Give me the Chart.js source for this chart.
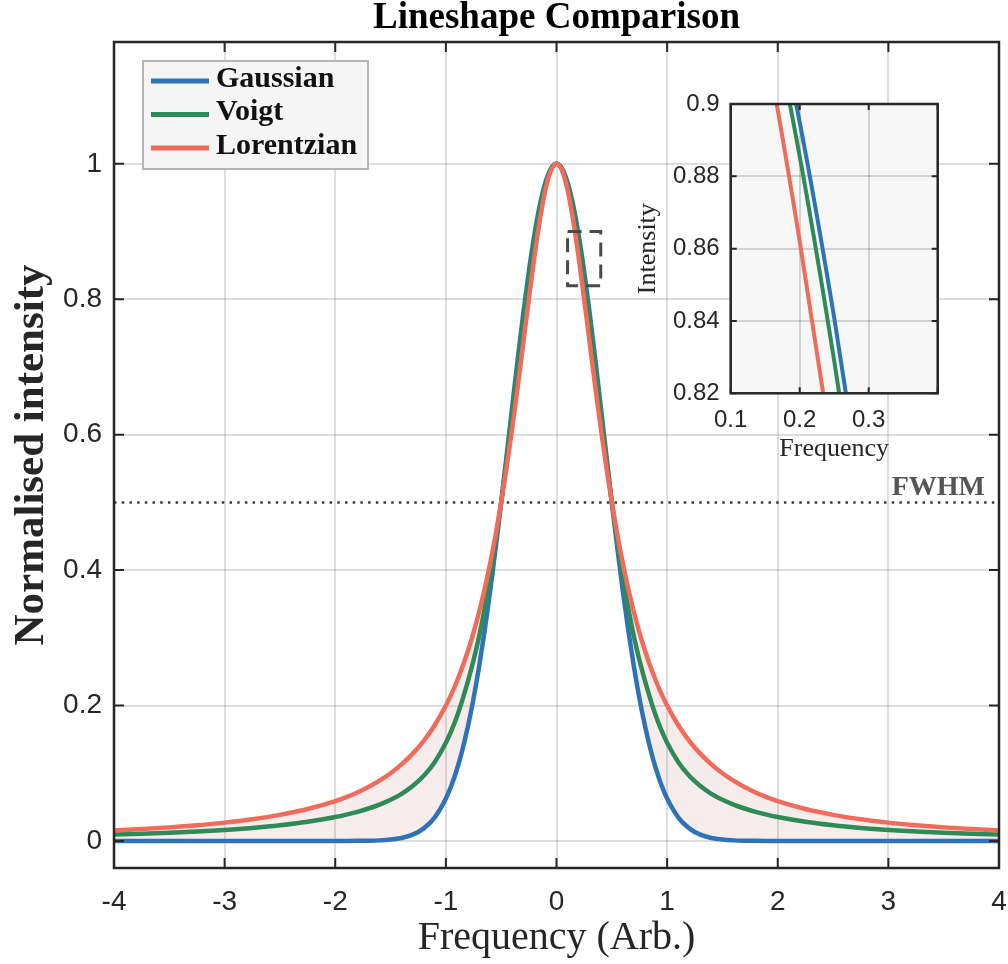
<!DOCTYPE html>
<html>
<head>
<meta charset="utf-8">
<title>Lineshape Comparison</title>
<script src="https://cdn.jsdelivr.net/npm/chart.js@4.4.1/dist/chart.umd.min.js"></script>
<style>
  html, body { margin: 0; padding: 0; background: #fff; }
  #wrap { position: relative; width: 1008px; height: 964px; }
  #main { position: absolute; left: 0; top: 0; }
  #inset { position: absolute; left: 620px; top: 80px; }
</style>
</head>
<body>
<div id="wrap">
  <canvas id="main" width="1008" height="964"></canvas>
  <canvas id="inset" width="340" height="390"></canvas>
</div>
<script>
// frequency samples (arb.) and the three normalised profiles
var freq = [-4,-3.75,-3.5,-3.25,-3,-2.75,-2.5,-2.25,-2,-1.9,-1.8,-1.7,-1.6,-1.5,-1.4,-1.3,-1.2,-1.1,-1,
  -0.95,-0.9,-0.85,-0.8,-0.75,-0.7,-0.65,-0.6,-0.55,-0.5,-0.45,-0.4,-0.35,-0.3,-0.25,-0.2,-0.15,-0.1,-0.05,
  0,
  0.05,0.1,0.15,0.2,0.25,0.3,0.35,0.4,0.45,0.5,0.55,0.6,0.65,0.7,0.75,0.8,0.85,0.9,0.95,
  1,1.1,1.2,1.3,1.4,1.5,1.6,1.7,1.8,1.9,2,2.25,2.5,2.75,3,3.25,3.5,3.75,4];

var gaussian = [0,0,0,0,0,0,0,0,0,0,0.0001,0.0003,0.0008,0.0020,0.0044,0.0092,0.0185,0.0349,0.0625,
  0.0819,0.1058,0.1349,0.1696,0.2102,0.2570,0.3099,0.3686,0.4323,0.5000,0.5704,0.6417,0.7120,0.7792,0.8409,0.8950,0.9395,0.9727,0.9931,
  1,
  0.9931,0.9727,0.9395,0.8950,0.8409,0.7792,0.7120,0.6417,0.5704,0.5000,0.4323,0.3686,0.3099,0.2570,0.2102,0.1696,0.1349,0.1058,0.0819,
  0.0625,0.0349,0.0185,0.0092,0.0044,0.0020,0.0008,0.0003,0.0001,0,0,0,0,0,0,0,0,0,0];

var voigt = [0.0095,0.0106,0.0120,0.0139,0.0162,0.0192,0.0231,0.0283,0.0353,0.0389,0.0430,0.0479,0.0537,0.0608,0.0696,0.0810,0.0961,0.1167,0.1450,
  0.1629,0.1838,0.2088,0.2364,0.2668,0.3015,0.3427,0.3892,0.4420,0.5000,0.5645,0.6320,0.7000,0.7665,0.8290,0.8855,0.9330,0.9695,0.9924,
  1,
  0.9924,0.9695,0.9330,0.8855,0.8290,0.7665,0.7000,0.6320,0.5645,0.5000,0.4420,0.3892,0.3427,0.3015,0.2668,0.2364,0.2088,0.1838,0.1629,
  0.1450,0.1167,0.0961,0.0810,0.0696,0.0608,0.0537,0.0479,0.0430,0.0389,0.0353,0.0283,0.0231,0.0192,0.0162,0.0139,0.0120,0.0106,0.0095];

var lorentzian = [0.0154,0.0175,0.0200,0.0231,0.0270,0.0320,0.0385,0.0471,0.0588,0.0648,0.0716,0.0796,0.0890,0.1000,0.1131,0.1289,0.1479,0.1712,0.2000,
  0.2169,0.2358,0.2571,0.2809,0.3077,0.3378,0.3717,0.4098,0.4525,0.5000,0.5525,0.6098,0.6711,0.7353,0.8000,0.8621,0.9174,0.9615,0.9901,
  1,
  0.9901,0.9615,0.9174,0.8621,0.8000,0.7353,0.6711,0.6098,0.5525,0.5000,0.4525,0.4098,0.3717,0.3378,0.3077,0.2809,0.2571,0.2358,0.2169,
  0.2000,0.1712,0.1479,0.1289,0.1131,0.1000,0.0890,0.0796,0.0716,0.0648,0.0588,0.0471,0.0385,0.0320,0.0270,0.0231,0.0200,0.0175,0.0154];

var seriesNames = ["Gaussian", "Voigt", "Lorentzian"];

var xTicks = [-4,-3,-2,-1,0,1,2,3,4];
var xTickLabels = ["-4","-3","-2","-1","0","1","2","3","4"];
var yTicks = [0,0.2,0.4,0.6,0.8,1];
var yTickLabels = ["0","0.2","0.4","0.6","0.8","1"];

var fwhmLevel = 0.5;
var zoomBox = [0.1, 0.4, 0.82, 0.9];   // x0, x1, y0, y1 of the inset window

var insetXTicks = [0.1,0.2,0.3,0.4];
var insetXTickLabels = ["0.1","0.2","0.3",""];
var insetYTicks = [0.82,0.84,0.86,0.88,0.9];
var insetYTickLabels = ["0.82","0.84","0.86","0.88","0.9"];

var colBlue = "#2E72B8", colGreen = "#2E8B57", colRed = "#EF6C5C";
var serif = "'Liberation Serif', 'Times New Roman', serif";
var sans = "'Liberation Sans', Arial, Helvetica, sans-serif";
var axisCol = "#262626";

function pts(ys) {
    return freq.map(function (f, i) { return {x: f, y: ys[i]}; });
}

function makeSets(width) {
    return [{
        label: seriesNames[0], data: pts(gaussian), borderColor: colBlue, borderWidth: width,
        pointRadius: 0, fill: false, cubicInterpolationMode: 'monotone', order: 3
    }, {
        label: seriesNames[1], data: pts(voigt), borderColor: colGreen, borderWidth: width,
        pointRadius: 0, fill: false, cubicInterpolationMode: 'monotone', order: 2
    }, {
        label: seriesNames[2], data: pts(lorentzian), borderColor: colRed, borderWidth: width,
        pointRadius: 0, cubicInterpolationMode: 'monotone', order: 1,
        fill: '-2', backgroundColor: 'rgba(190,100,100,0.12)'
    }];
}

function tickMarks(ctx, chart, xs, ys, len) {
    var a = chart.chartArea;
    ctx.beginPath();
    xs.forEach(function (v) {
        var p = chart.scales.x.getPixelForValue(v);
        ctx.moveTo(p, a.bottom); ctx.lineTo(p, a.bottom - len);
        ctx.moveTo(p, a.top); ctx.lineTo(p, a.top + len);
    });
    ys.forEach(function (v) {
        var p = chart.scales.y.getPixelForValue(v);
        ctx.moveTo(a.left, p); ctx.lineTo(a.left + len, p);
        ctx.moveTo(a.right, p); ctx.lineTo(a.right - len, p);
    });
    ctx.stroke();
}

var mainBits = {
    id: 'mainBits',
    beforeDatasetsDraw: function (chart) {
        var ctx = chart.ctx, a = chart.chartArea;
        var y = chart.scales.y.getPixelForValue(fwhmLevel);
        ctx.save();
        ctx.strokeStyle = '#3a3a3a';
        ctx.lineWidth = 2.5;
        ctx.setLineDash([2.5, 5.2]);
        ctx.beginPath(); ctx.moveTo(a.left, y); ctx.lineTo(a.right, y); ctx.stroke();
        ctx.restore();
    },
    afterDatasetsDraw: function (chart) {
        var ctx = chart.ctx, a = chart.chartArea, sx = chart.scales.x, sy = chart.scales.y;
        ctx.save();
        // dashed zoom window
        var bx0 = sx.getPixelForValue(zoomBox[0]), bx1 = sx.getPixelForValue(zoomBox[1]);
        var by0 = sy.getPixelForValue(zoomBox[3]), by1 = sy.getPixelForValue(zoomBox[2]);
        ctx.strokeStyle = '#4a4a4a';
        ctx.lineWidth = 3;
        ctx.setLineDash([14, 8]);
        ctx.strokeRect(bx0, by0, bx1 - bx0, by1 - by0);
        ctx.setLineDash([]);

        // FWHM label
        ctx.fillStyle = '#555';
        ctx.font = 'bold 28px ' + serif;
        ctx.textAlign = 'right';
        ctx.textBaseline = 'alphabetic';
        ctx.fillText('FWHM', a.right - 14, sy.getPixelForValue(fwhmLevel) - 7);

        // legend box
        var lx = a.left + 29, ly = a.top + 19;
        ctx.fillStyle = '#f5f5f5';
        ctx.fillRect(lx, ly, 225, 108);
        ctx.strokeStyle = '#b4b4b4';
        ctx.lineWidth = 2;
        ctx.strokeRect(lx, ly, 225, 108);
        var cols = [colBlue, colGreen, colRed];
        ctx.font = 'bold 30px ' + serif;
        ctx.textAlign = 'left';
        ctx.textBaseline = 'middle';
        for (var i = 0; i < 3; i++) {
            var yy = ly + 20 + i * 33.5;
            ctx.strokeStyle = cols[i];
            ctx.lineWidth = 5;
            ctx.beginPath(); ctx.moveTo(lx + 8, yy); ctx.lineTo(lx + 66, yy); ctx.stroke();
            ctx.fillStyle = '#111';
            ctx.fillText(seriesNames[i], lx + 73, yy - 2);
        }

        // inward ticks and box
        ctx.strokeStyle = axisCol;
        ctx.lineWidth = 2;
        tickMarks(ctx, chart, xTicks, yTicks, 10);
        ctx.lineWidth = 2.5;
        ctx.strokeRect(a.left, a.top, a.right - a.left, a.bottom - a.top);
        ctx.restore();
    }
};

var chart = new Chart(document.getElementById("main"), {
    type: 'line',
    data: { datasets: makeSets(4.5) },
    options: {
        responsive: false,
        animation: false,
        events: [],
        layout: { padding: { left: 0, right: 9, top: 0, bottom: 0 } },
        scales: {
            x: {
                type: 'linear', min: -4, max: 4,
                afterBuildTicks: function (s) { s.ticks = xTicks.map(function (v) { return {value: v}; }); },
                afterFit: function (s) { s.height = 96; s.paddingLeft = 0; s.paddingRight = 0; },
                ticks: {
                    autoSkip: false, maxRotation: 0, padding: 20, color: axisCol,
                    font: { family: sans, size: 28, lineHeight: 1 },
                    callback: function (v, i) { return xTickLabels[i]; }
                },
                grid: { color: 'rgba(0,0,0,0.13)', lineWidth: 2, drawTicks: false },
                border: { display: false },
                title: {
                    display: true, text: 'Frequency (Arb.)', color: axisCol,
                    font: { family: serif, size: 40, lineHeight: 1 },
                    padding: { top: 0, bottom: 6 }
                }
            },
            y: {
                type: 'linear', min: -0.04, max: 1.18,
                afterBuildTicks: function (s) { s.ticks = yTicks.map(function (v) { return {value: v}; }); },
                afterFit: function (s) { s.width = 114; },
                ticks: {
                    padding: 12, color: axisCol,
                    font: { family: sans, size: 28, lineHeight: 1 },
                    callback: function (v, i) { return yTickLabels[i]; }
                },
                grid: { color: 'rgba(0,0,0,0.13)', lineWidth: 2, drawTicks: false },
                border: { display: false },
                title: {
                    display: true, text: 'Normalised intensity', color: axisCol,
                    font: { family: serif, size: 43, weight: 'bold', lineHeight: 1 },
                    padding: { top: 10, bottom: 0 }
                }
            }
        },
        plugins: {
            legend: { display: false },
            tooltip: { enabled: false },
            filler: { drawTime: 'beforeDatasetsDraw' },
            title: {
                display: true, fullSize: false, text: 'Lineshape Comparison', color: '#000',
                font: { family: serif, size: 37, weight: 'bold', lineHeight: 0.9 },
                padding: { top: 1.5, bottom: 7.2 }
            }
        }
    },
    plugins: [mainBits]
});

var insetBits = {
    id: 'insetBits',
    beforeDraw: function (chart) {
        var ctx = chart.ctx, a = chart.chartArea;
        ctx.save();
        ctx.fillStyle = '#f7f7f7';
        ctx.fillRect(a.left, a.top, a.right - a.left, a.bottom - a.top);
        ctx.restore();
    },
    afterDraw: function (chart) {
        var ctx = chart.ctx, a = chart.chartArea;
        ctx.save();
        ctx.strokeStyle = axisCol;
        ctx.lineWidth = 2;
        tickMarks(ctx, chart, insetXTicks, insetYTicks, 6);
        ctx.lineWidth = 2.5;
        ctx.strokeRect(a.left, a.top, a.right - a.left, a.bottom - a.top);
        ctx.restore();
    }
};

var insetSets = makeSets(4);
insetSets.forEach(function (d) { d.clip = 0; d.fill = false; });

var inset = new Chart(document.getElementById("inset"), {
    type: 'line',
    data: { datasets: insetSets },
    options: {
        responsive: false,
        animation: false,
        events: [],
        layout: { padding: { left: 0, right: 22.3, top: 24, bottom: 0 } },
        scales: {
            x: {
                type: 'linear', min: zoomBox[0], max: zoomBox[1],
                afterBuildTicks: function (s) { s.ticks = insetXTicks.map(function (v) { return {value: v}; }); },
                afterFit: function (s) { s.height = 76.7; s.paddingLeft = 0; s.paddingRight = 0; },
                ticks: {
                    autoSkip: false, maxRotation: 0, padding: 15, color: axisCol,
                    font: { family: sans, size: 24, lineHeight: 1 },
                    callback: function (v, i) { return insetXTickLabels[i]; }
                },
                grid: { color: 'rgba(0,0,0,0.15)', lineWidth: 2, drawTicks: false },
                border: { display: false },
                title: {
                    display: true, text: 'Frequency', color: axisCol,
                    font: { family: serif, size: 26, lineHeight: 1 },
                    padding: { top: 0, bottom: 8 }
                }
            },
            y: {
                type: 'linear', min: zoomBox[2], max: zoomBox[3],
                afterBuildTicks: function (s) { s.ticks = insetYTicks.map(function (v) { return {value: v}; }); },
                afterFit: function (s) { s.width = 110.7; },
                ticks: {
                    padding: 11, color: axisCol,
                    font: { family: sans, size: 24, lineHeight: 1 },
                    callback: function (v, i) { return insetYTickLabels[i]; }
                },
                grid: { color: 'rgba(0,0,0,0.15)', lineWidth: 2, drawTicks: false },
                border: { display: false },
                title: {
                    display: true, text: 'Intensity', color: axisCol,
                    font: { family: serif, size: 26, lineHeight: 1 },
                    padding: { top: 15, bottom: 0 }
                }
            }
        },
        plugins: {
            legend: { display: false },
            tooltip: { enabled: false },
            title: { display: false }
        }
    },
    plugins: [insetBits]
});
</script>
</body>
</html>
